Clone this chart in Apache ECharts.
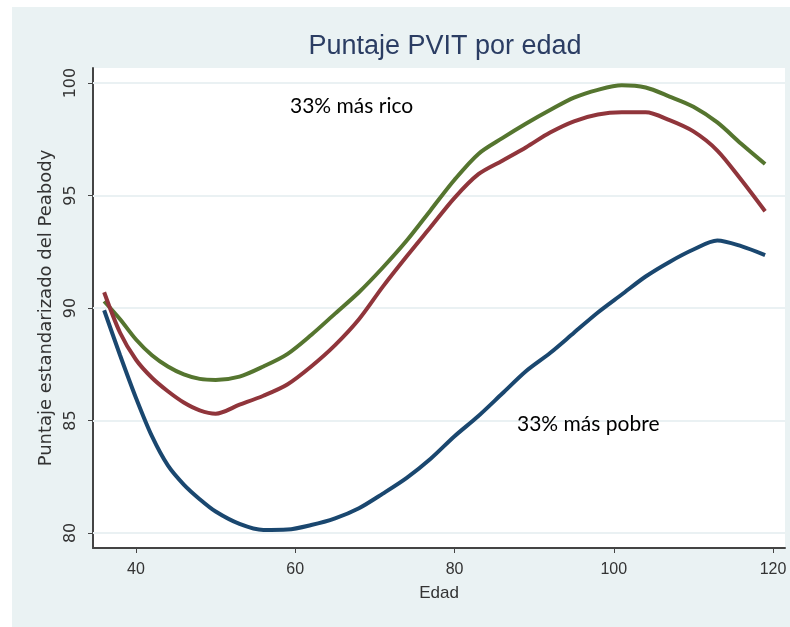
<!DOCTYPE html>
<html>
<head>
<meta charset="utf-8">
<script src="https://cdn.jsdelivr.net/npm/echarts@6/dist/echarts.min.js"></script>
<style>
html,body{margin:0;padding:0;background:#fff;}
#wrap{position:relative;width:790px;height:627px;}
#bg{position:absolute;left:12px;top:7px;width:778px;height:620px;background:#eaf2f3;}
#chart{position:absolute;left:0;top:0;width:790px;height:627px;}
</style>
</head>
<body>
<div id="wrap"><div id="bg"></div><div id="chart"></div></div>
<script>
const titleText = 'Puntaje PVIT por edad';
const xName = 'Edad';
const yName = 'Puntaje estandarizado del Peabody';
const xTicks = [40, 60, 80, 100, 120];
const yTicks = [80, 85, 90, 95, 100];
const ages = [36, 38, 40, 42, 44, 46, 48, 50, 53, 56, 59, 62, 65, 68, 71, 74, 77, 80, 83, 86, 89, 92, 95, 98, 101, 104, 107, 110, 113, 116, 119];
const rich = [90.3, 89.5, 88.6, 87.9, 87.4, 87.05, 86.85, 86.8, 86.95, 87.4, 87.95, 88.8, 89.75, 90.7, 91.8, 93.0, 94.35, 95.7, 96.85, 97.55, 98.2, 98.8, 99.35, 99.7, 99.9, 99.8, 99.4, 98.95, 98.25, 97.3, 96.4];
const middle = [90.7, 88.9, 87.7, 86.9, 86.3, 85.8, 85.45, 85.3, 85.7, 86.1, 86.6, 87.4, 88.35, 89.5, 90.95, 92.3, 93.6, 94.9, 95.95, 96.55, 97.15, 97.8, 98.3, 98.6, 98.7, 98.7, 98.35, 97.85, 97.0, 95.7, 94.3];
const poor = [89.9, 87.9, 86.0, 84.3, 83.0, 82.15, 81.5, 80.95, 80.4, 80.13, 80.15, 80.35, 80.65, 81.1, 81.75, 82.45, 83.3, 84.3, 85.2, 86.2, 87.2, 88.0, 88.9, 89.8, 90.6, 91.4, 92.05, 92.6, 93.0, 92.75, 92.35];
const labelRich = '33% más rico';
const labelPoor = '33% más pobre';

const pair = arr => ages.map((a, i) => [a, arr[i]]);
const chart = echarts.init(document.getElementById('chart'), null, {renderer: 'canvas'});
const lineSeries = (name, data, color) => ({
  name, type: 'line', data: pair(data), showSymbol: false, smooth: 0.3,
  lineStyle: {color, width: 4}, itemStyle: {color}, z: 8
});
chart.setOption({
  backgroundColor: 'transparent',
  animation: false,
  title: {
    text: titleText, left: 440, top: 28, textAlign: 'center',
    textStyle: {fontFamily: 'Liberation Sans', fontSize: 27, fontWeight: 'normal', color: '#2b3d63'}
  },
  grid: {left: 93, right: 5, top: 68, bottom: 79, show: true, backgroundColor: '#ffffff', borderWidth: 0},
  xAxis: {
    type: 'value', min: 34.6, max: 121.5,
    name: xName, nameLocation: 'middle', nameGap: 37,
    nameTextStyle: {fontFamily: 'Liberation Sans', fontSize: 17, color: '#333'},
    axisLine: {show: true, lineStyle: {color: '#444', width: 2}},
    axisTick: {show: true, customValues: xTicks, length: 5, lineStyle: {color: '#444'}},
    axisLabel: {customValues: xTicks, margin: 14, fontFamily: 'Liberation Sans', fontSize: 16, color: '#333'},
    splitLine: {show: false}
  },
  yAxis: {
    type: 'value', min: 79.33, max: 100.67,
    name: yName, nameLocation: 'middle', nameGap: 34,
    nameTextStyle: {fontFamily: 'DejaVu Sans', fontSize: 18, color: '#333'},
    axisLine: {show: true, lineStyle: {color: '#444', width: 2}},
    axisTick: {show: true, customValues: yTicks, length: 5, lineStyle: {color: '#444'}},
    axisLabel: {customValues: yTicks, rotate: 90, margin: 14, fontFamily: 'DejaVu Sans', fontSize: 16, color: '#333'},
    splitLine: {show: false}
  },
  series: [
    {
      type: 'line', data: [], silent: true, z: 1,
      markLine: {
        silent: true, z: 1, symbol: 'none', label: {show: false},
        lineStyle: {color: '#eaf1f3', width: 2, type: 'solid'},
        data: yTicks.map(v => ({yAxis: v}))
      }
    },
    lineSeries('rico', rich, '#55752f'),
    lineSeries('medio', middle, '#90353b'),
    lineSeries('pobre', poor, '#1a476f')
  ],
  graphic: [
    {type: 'text', z: 100, left: 290, top: 96, style: {text: labelRich, font: '21px Lato', fill: '#000'}},
    {type: 'text', z: 100, left: 517, top: 414, style: {text: labelPoor, font: '21px Lato', fill: '#000'}}
  ]
});
</script>
</body>
</html>
